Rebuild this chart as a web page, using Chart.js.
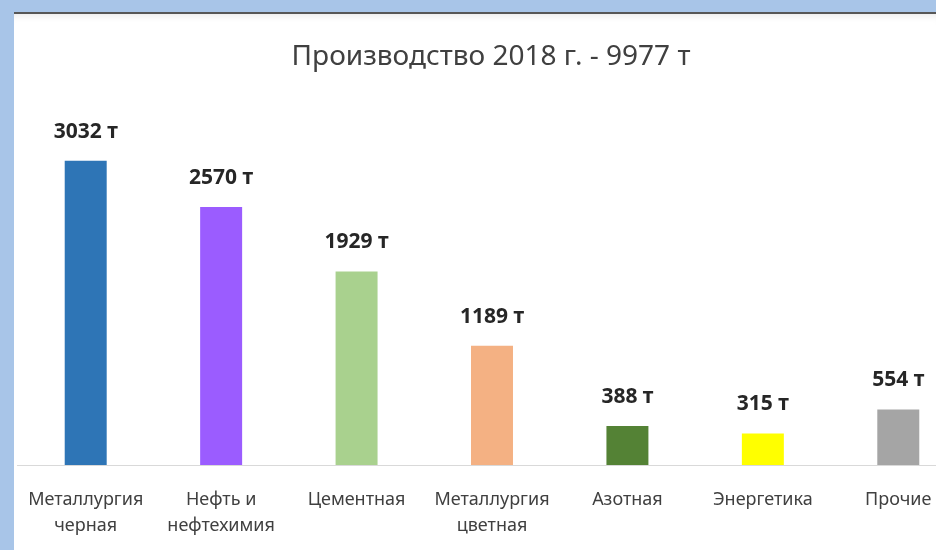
<!DOCTYPE html>
<html>
<head>
<meta charset="utf-8">
<script src="https://cdn.jsdelivr.net/npm/chart.js@4/dist/chart.umd.min.js"></script>
<style>
    html, body {
        margin: 0;
        padding: 0;
        width: 936px;
        height: 550px;
        overflow: hidden;
        background: #a8c5e8;
    }
    #panel {
        position: absolute;
        left: 14px;
        top: 12px;
        width: 922px;
        height: 536px;
        background: #ffffff;
        border-top: 2px solid #575757;
        overflow: hidden;
        box-shadow: inset 0 8px 10px -8px rgba(0, 0, 0, 0.12);
    }
    #chartBox {
        position: absolute;
        left: 0;
        top: 0;
        width: 952px;
        height: 536px;
    }
</style>
</head>
<body>
<div id="panel">
    <div id="chartBox"><canvas id="myChart"></canvas></div>
</div>
<script>
const titleText = 'Производство 2018 г. - 9977 т';
const categories = [
    ['Металлургия', 'черная'],
    ['Нефть и', 'нефтехимия'],
    'Цементная',
    ['Металлургия', 'цветная'],
    'Азотная',
    'Энергетика',
    'Прочие'
];
const values = [3032, 2570, 1929, 1189, 388, 315, 554];
const unit = ' т';
const barColors = ['#2e75b6', '#9b5cff', '#a9d18e', '#f4b183', '#548235', '#ffff00', '#a5a5a5'];

const fontFamily = "'Noto Sans', 'Open Sans', sans-serif";

// writes "NNNN т" above each bar
const valueLabels = {
    id: 'valueLabels',
    afterDatasetsDraw(chart) {
        const ctx = chart.ctx;
        const meta = chart.getDatasetMeta(0);
        ctx.save();
        ctx.font = 'bold 21px ' + fontFamily;
        ctx.fillStyle = '#262626';
        ctx.textAlign = 'center';
        ctx.textBaseline = 'middle';
        meta.data.forEach((bar, i) => {
            ctx.fillText(values[i] + unit, bar.x, bar.y - 29);
        });
        ctx.restore();
    }
};

function createChart() {
    const ctx = document.getElementById('myChart').getContext('2d');

    new Chart(ctx, {
        type: 'bar',
        data: {
            labels: categories,
            datasets: [{
                data: values,
                backgroundColor: barColors,
                borderWidth: 0,
                barPercentage: 0.62,
                categoryPercentage: 0.5
            }]
        },
        options: {
            responsive: true,
            maintainAspectRatio: false,
            animation: false,
            layout: {
                padding: { left: 2, right: 0, top: 0, bottom: 0 }
            },
            plugins: {
                legend: { display: false },
                tooltip: { enabled: false },
                title: {
                    display: true,
                    text: titleText,
                    color: '#404040',
                    font: { family: fontFamily, size: 28, weight: 'normal' },
                    padding: { top: 26, bottom: 6 }
                }
            },
            scales: {
                x: {
                    grid: { display: false },
                    border: { display: true, color: '#d9d9d9', width: 1 },
                    ticks: {
                        color: '#404040',
                        font: { family: fontFamily, size: 18, lineHeight: 1.45 },
                        padding: 14,
                        maxRotation: 0,
                        autoSkip: false
                    },
                    afterFit: (scale) => { scale.height = 85; }
                },
                y: {
                    display: false,
                    min: 0,
                    max: 3840
                }
            }
        },
        plugins: [valueLabels]
    });
}

createChart();
</script>
</body>
</html>
